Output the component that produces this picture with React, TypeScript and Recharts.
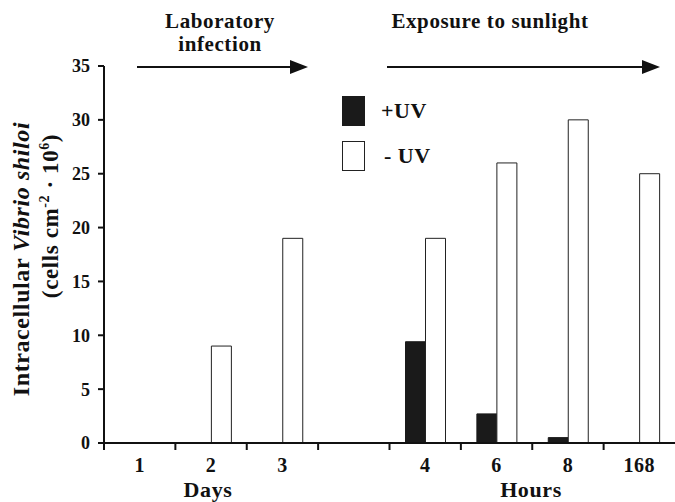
import { BarChart, Bar, XAxis, YAxis } from 'recharts';

const CATEGORIES = ['1', '2', '3', '', '4', '6', '8', '168'];
const PLUS_UV = [0, 0, 0, null, 9.4, 2.7, 0.5, 0];
const MINUS_UV = [0, 9, 19, null, 19, 26, 30, 25];
const Y_TICKS = [0, 5, 10, 15, 20, 25, 30, 35];

const data = CATEGORIES.map((c, i) => ({ cat: c, plus: PLUS_UV[i], minus: MINUS_UV[i] }));

const FONT = '"Liberation Serif", "Times New Roman", serif';
const W = 675;
const H = 502;

function XTick(props: any) {
  const { x, y, payload } = props;
  const half = payload?.offset ?? 35.6;
  return (
    <g>
      <line x1={x - half} x2={x - half} y1={y} y2={y + 7} stroke="#111" strokeWidth={2} />
      <text
        x={x}
        y={y + 29}
        textAnchor="middle"
        fontFamily={FONT}
        fontWeight="bold"
        fontSize={20}
        letterSpacing={0.5}
        fill="#111"
      >
        {payload.value}
      </text>
    </g>
  );
}

// legend drawn by hand, placed inside the plot like the original
function LegendBox() {
  return (
    <div
      style={{
        position: 'absolute',
        left: 342,
        top: 96,
        fontFamily: FONT,
        fontWeight: 'bold',
        fontSize: 22,
        letterSpacing: 0.5,
        color: '#111',
      }}
    >
      <div style={{ display: 'flex', alignItems: 'center', height: 30 }}>
        <span style={{ width: 23, height: 30, background: '#1a1a1a', display: 'inline-block' }} />
        <span style={{ marginLeft: 16 }}>+UV</span>
      </div>
      <div style={{ display: 'flex', alignItems: 'center', height: 30, marginTop: 15 }}>
        <span style={{ width: 21, height: 28, border: '1px solid #222', background: '#fff', display: 'inline-block' }} />
        <span style={{ marginLeft: 19 }}>- UV</span>
      </div>
    </div>
  );
}

function Arrow({ x1, x2, y }: { x1: number; x2: number; y: number }) {
  return (
    <g>
      <line x1={x1} x2={x2 - 16} y1={y} y2={y} stroke="#111" strokeWidth={2} />
      <polygon points={`${x2},${y} ${x2 - 18},${y - 7} ${x2 - 18},${y + 7}`} fill="#111" />
    </g>
  );
}

export default function App() {
  return (
    <div style={{ position: 'absolute', left: 0, top: 0, width: W, height: H, background: '#fff' }}>
      <BarChart
        width={W}
        height={H}
        data={data}
        margin={{ top: 66, right: 0, left: 0, bottom: 0 }}
        barGap={0}
        barSize={20}
      >
        <XAxis
          dataKey="cat"
          axisLine={{ stroke: '#111', strokeWidth: 2 }}
          tickLine={false}
          tickSize={0}
          tickMargin={0}
          tick={<XTick />}
          interval={0}
          height={59}
        />
        <YAxis
          width={104}
          domain={[0, 35]}
          ticks={Y_TICKS}
          interval={0}
          axisLine={{ stroke: '#111', strokeWidth: 2 }}
          tickLine={{ stroke: '#111', strokeWidth: 2 }}
          tickSize={6}
          tickMargin={8}
          tick={{ fontFamily: FONT, fontWeight: 'bold', fontSize: 18, fill: '#111' }}
        />
        <Bar dataKey="plus" name="+UV" fill="#1a1a1a" stroke="#1a1a1a" isAnimationActive={false} />
        <Bar dataKey="minus" name="- UV" fill="#fff" stroke="#222" strokeWidth={1} isAnimationActive={false} />
      </BarChart>
      <LegendBox />
      <svg width={W} height={H} style={{ position: 'absolute', left: 0, top: 0, pointerEvents: 'none' }}>
        <g fontFamily={FONT} fontWeight="bold" fill="#111" letterSpacing={0.6}>
          <text x={220} y={28} fontSize={21} textAnchor="middle">Laboratory</text>
          <text x={220} y={51} fontSize={21} textAnchor="middle">infection</text>
          <text x={490} y={28} fontSize={21} textAnchor="middle">Exposure to sunlight</text>
          <text x={208} y={497} fontSize={22} textAnchor="middle">Days</text>
          <text x={531} y={497} fontSize={22} textAnchor="middle">Hours</text>
          <text x={29} y={259} fontSize={24} textAnchor="middle" transform="rotate(-90 29 259)">
            Intracellular <tspan fontStyle="italic">Vibrio shiloi</tspan>
          </text>
          <text x={58} y={216} fontSize={23} textAnchor="middle" transform="rotate(-90 58 216)">
            (cells cm<tspan dy={-9} fontSize={14}>-2</tspan>
            <tspan dy={9}> · 10</tspan>
            <tspan dy={-9} fontSize={14}>6</tspan>
            <tspan dy={9}>)</tspan>
          </text>
        </g>
        <Arrow x1={137} x2={308} y={67} />
        <Arrow x1={387} x2={660} y={67} />
      </svg>
    </div>
  );
}
